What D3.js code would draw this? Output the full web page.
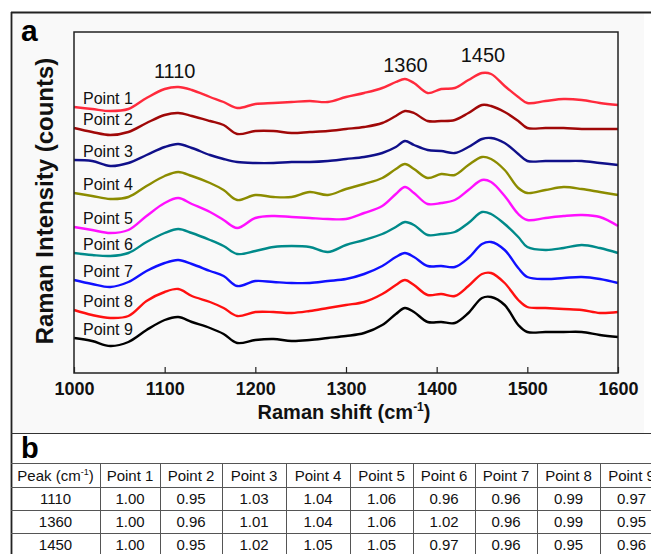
<!DOCTYPE html>
<html>
<head>
<meta charset="utf-8">
<script src="https://cdn.jsdelivr.net/npm/d3@7"></script>
<style>
	body { margin: 0; background: #fff; }
	svg { display: block; font-family: Arial, "Liberation Sans", sans-serif; }
</style>
</head>
<body>
<div id="chart"></div>
<script>
// Raman shift sampling (cm-1)
var shifts = [1000, 1020, 1040, 1060, 1080, 1100, 1115, 1130, 1150, 1165, 1180, 1200, 1220, 1240, 1260, 1280, 1300, 1320, 1340, 1355,
	1365, 1375, 1390, 1405, 1420, 1435, 1450, 1460, 1475, 1490, 1500, 1520, 1540, 1560, 1580, 1600];

// intensities (offset, arbitrary counts)
var point1 = [266, 264, 262, 264, 275, 284, 286, 283, 276, 271, 265, 269, 270, 271, 272, 271, 276, 280, 285, 291,
	294, 290, 280, 284, 285, 293, 300, 299, 287, 276, 270, 272, 274, 273, 270, 268];
var point2 = [245, 241, 238, 241, 250, 258, 260, 257, 252, 248, 239, 242, 242, 240, 241, 242, 244, 246, 250, 257,
	262, 260, 252, 252, 253, 260, 268, 267, 261, 252, 245, 245, 245, 244, 244, 244];
var point3 = [213, 212, 207, 210, 218, 226, 229, 225, 218, 214, 211, 210, 210, 211, 211, 212, 214, 216, 220, 226,
	232, 228, 223, 222, 220, 226, 234, 235, 230, 219, 212, 212, 212, 212, 210, 208];
var point4 = [180, 177, 174, 176, 187, 197, 201, 197, 190, 183, 173, 178, 176, 176, 181, 178, 184, 189, 195, 204,
	209, 204, 195, 199, 198, 208, 216, 214, 203, 185, 180, 183, 186, 184, 181, 178];
var point5 = [146, 143, 140, 143, 157, 170, 175, 169, 161, 153, 145, 155, 157, 156, 155, 154, 154, 160, 167, 179,
	186, 180, 169, 170, 173, 183, 193, 191, 177, 159, 153, 155, 157, 158, 156, 147];
var point6 = [120, 118, 117, 120, 131, 140, 144, 140, 133, 127, 119, 122, 126, 127, 126, 121, 128, 133, 139, 146,
	151, 148, 138, 139, 141, 150, 161, 159, 149, 136, 126, 123, 125, 128, 125, 120];
var point7 = [93, 89, 86, 91, 102, 110, 113, 109, 102, 97, 87, 92, 91, 90, 90, 92, 94, 99, 107, 116,
	120, 116, 107, 107, 106, 115, 129, 131, 123, 105, 96, 94, 95, 96, 94, 90];
var point8 = [63, 58, 55, 57, 72, 81, 84, 77, 71, 65, 57, 61, 61, 60, 62, 65, 68, 71, 79, 88,
	93, 88, 78, 79, 77, 87, 99, 100, 90, 73, 66, 65, 64, 63, 60, 61];
var point9 = [35, 32, 27, 31, 43, 53, 56, 51, 45, 39, 30, 33, 34, 32, 33, 35, 37, 40, 48, 59,
	65, 61, 51, 51, 50, 60, 75, 76, 68, 48, 41, 41, 41, 41, 38, 36];

var seriesNames = ["Point 1", "Point 2", "Point 3", "Point 4", "Point 5", "Point 6", "Point 7", "Point 8", "Point 9"];
var seriesValues = [point1, point2, point3, point4, point5, point6, point7, point8, point9];
var seriesColors = ["#ff2a3c", "#a00808", "#10108a", "#8c8c00", "#ff10ff", "#008a8a", "#1010ff", "#ff1010", "#000000"];

var xTicks = [1000, 1100, 1200, 1300, 1400, 1500, 1600];
var peakShifts = [1110, 1360, 1450];
var peakLabels = ["1110", "1360", "1450"];

// table (panel b)
var tablePeaks = ["1110", "1360", "1450"];
var ratio1110 = ["1.00", "0.95", "1.03", "1.04", "1.06", "0.96", "0.96", "0.99", "0.97"];
var ratio1360 = ["1.00", "0.96", "1.01", "1.04", "1.06", "1.02", "0.96", "0.99", "0.95"];
var ratio1450 = ["1.00", "0.95", "1.02", "1.05", "1.05", "0.97", "0.96", "0.95", "0.96"];
var tableRows = [ratio1110, ratio1360, ratio1450];

//
// Layout
//
var _width = 651,
	_height = 554;

var plot = {
	left: 74,
	right: 618,
	top: 32,
	bottom: 373
};

var svg = d3.select("#chart").append("svg")
	.attr("width", _width)
	.attr("height", _height);

// panel a background
svg.append("rect")
	.attr("x", 12)
	.attr("y", 13)
	.attr("width", 632)
	.attr("height", 420)
	.attr("fill", "#f9f9f9");

// outer frame lines
svg.append("line")
	.attr("x1", 11).attr("x2", _width)
	.attr("y1", 12.5).attr("y2", 12.5)
	.attr("stroke", "#222").attr("stroke-width", 1.8);
svg.append("line")
	.attr("x1", 11.5).attr("x2", 11.5)
	.attr("y1", 12).attr("y2", _height)
	.attr("stroke", "#222").attr("stroke-width", 1.8);
svg.append("line")
	.attr("x1", 11).attr("x2", _width)
	.attr("y1", 433.5).attr("y2", 433.5)
	.attr("stroke", "#333").attr("stroke-width", 1.2);

//
// Scales
//
var x = d3.scaleLinear()
	.domain([1000, 1600])
	.range([plot.left, plot.right]);

var y = d3.scaleLinear()
	.domain([0, plot.bottom - plot.top])
	.range([plot.bottom, plot.top]);

// x axis
var xAxis = d3.axisBottom(x)
	.tickValues(xTicks)
	.tickSizeInner(-6)
	.tickSizeOuter(0)
	.tickPadding(9)
	.tickFormat(d3.format("d"));

var gx = svg.append("g")
	.attr("transform", "translate(0," + plot.bottom + ")")
	.call(xAxis);
gx.select(".domain").remove();
gx.selectAll(".tick line").attr("stroke", "#222").attr("stroke-width", 1.2);
gx.selectAll(".tick text")
	.attr("fill", "#111")
	.style("font-size", "18px")
	.style("font-weight", "bold")
	.style("font-family", "Arial, 'Liberation Sans', sans-serif");

// spectra
var line = d3.line()
	.x(function(d, i) { return x(shifts[i]); })
	.y(function(d) { return y(d); })
	.curve(d3.curveCatmullRom.alpha(0.5));

svg.selectAll("path.spectrum")
	.data(seriesValues)
	.enter()
	.append("path")
	.attr("class", "spectrum")
	.attr("d", function(d) { return line(d); })
	.attr("fill", "none")
	.attr("stroke", function(d, i) { return seriesColors[i]; })
	.attr("stroke-width", 2.4)
	.attr("stroke-linejoin", "round");

// point labels
svg.selectAll("text.pointLabel")
	.data(seriesNames)
	.enter()
	.append("text")
	.attr("class", "pointLabel")
	.attr("x", x(1000) + 9)
	.attr("y", function(d, i) { return y(seriesValues[i][0]) - 3.5; })
	.attr("fill", "#111")
	.style("font-size", "16px")
	.text(function(d) { return d; });

// peak labels, above the top spectrum
svg.selectAll("text.peakLabel")
	.data(peakLabels)
	.enter()
	.append("text")
	.attr("class", "peakLabel")
	.attr("text-anchor", "middle")
	.attr("x", function(d, i) { return x(peakShifts[i]) + (i === 1 ? 5 : 1); })
	.attr("y", function(d, i) {
		var top = d3.max(point1.filter(function(v, j) {
			return Math.abs(shifts[j] - peakShifts[i]) <= 15;
		}));
		return y(top) - [9, 7, 11][i];
	})
	.attr("fill", "#111")
	.style("font-size", "20px")
	.text(function(d) { return d; });

// plot frame
svg.append("rect")
	.attr("x", plot.left)
	.attr("y", plot.top)
	.attr("width", plot.right - plot.left)
	.attr("height", plot.bottom - plot.top)
	.attr("fill", "none")
	.attr("stroke", "#222")
	.attr("stroke-width", 1.5);

// axis titles
var xTitle = svg.append("text")
	.attr("x", (plot.left + plot.right) / 2 - 2)
	.attr("y", 419)
	.attr("text-anchor", "middle")
	.attr("fill", "#111")
	.style("font-size", "20px")
	.style("font-weight", "bold");
xTitle.append("tspan").text("Raman shift (cm");
xTitle.append("tspan").attr("dy", -8).style("font-size", "12px").text("-1");
xTitle.append("tspan").attr("dy", 8).text(")");

svg.append("text")
	.attr("transform", "translate(53," + 201 + ") rotate(-90)")
	.attr("text-anchor", "middle")
	.attr("fill", "#111")
	.style("font-size", "24px")
	.style("font-weight", "bold")
	.text("Raman Intensity (counts)");

// panel letters
svg.append("text")
	.attr("x", 21).attr("y", 41)
	.attr("fill", "#000")
	.style("font-size", "30px")
	.style("font-weight", "bold")
	.text("a");
svg.append("text")
	.attr("x", 21).attr("y", 458)
	.attr("fill", "#000")
	.style("font-size", "29px")
	.style("font-weight", "bold")
	.text("b");

//
// Table
//
var colEdges = [11, 100, 160, 222, 286, 350, 413, 475, 537, 600, 663];
var rowEdges = [463, 487, 510, 533, 556];

var table = svg.append("g").attr("class", "table");

rowEdges.forEach(function(ry) {
	table.append("line")
		.attr("x1", 11).attr("x2", _width)
		.attr("y1", ry + 0.5).attr("y2", ry + 0.5)
		.attr("stroke", "#555").attr("stroke-width", 1);
});
colEdges.slice(1).forEach(function(cx) {
	table.append("line")
		.attr("x1", cx + 0.5).attr("x2", cx + 0.5)
		.attr("y1", rowEdges[0]).attr("y2", _height)
		.attr("stroke", "#555").attr("stroke-width", 1);
});

function cellX(c) { return (colEdges[c] + colEdges[c + 1]) / 2; }
function cellY(r) { return (rowEdges[r] + rowEdges[r + 1]) / 2 + 5.5; }

// header
var head = table.append("text")
	.attr("x", cellX(0)).attr("y", cellY(0))
	.attr("text-anchor", "middle")
	.attr("fill", "#111")
	.style("font-size", "15px");
head.append("tspan").text("Peak (cm");
head.append("tspan").attr("dy", -6).style("font-size", "9px").text("-1");
head.append("tspan").attr("dy", 6).text(")");

table.selectAll("text.colHead")
	.data(seriesNames)
	.enter()
	.append("text")
	.attr("class", "colHead")
	.attr("x", function(d, i) { return cellX(i + 1); })
	.attr("y", cellY(0))
	.attr("text-anchor", "middle")
	.attr("fill", "#111")
	.style("font-size", "15px")
	.text(function(d) { return d; });

tableRows.forEach(function(row, r) {
	table.append("text")
		.attr("x", cellX(0)).attr("y", cellY(r + 1))
		.attr("text-anchor", "middle")
		.attr("fill", "#111")
		.style("font-size", "15px")
		.text(tablePeaks[r]);

	table.selectAll("text.r" + r)
		.data(row)
		.enter()
		.append("text")
		.attr("class", "r" + r)
		.attr("x", function(d, i) { return cellX(i + 1); })
		.attr("y", cellY(r + 1))
		.attr("text-anchor", "middle")
		.attr("fill", "#111")
		.style("font-size", "15px")
		.text(function(d) { return d; });
});
</script>
</body>
</html>
